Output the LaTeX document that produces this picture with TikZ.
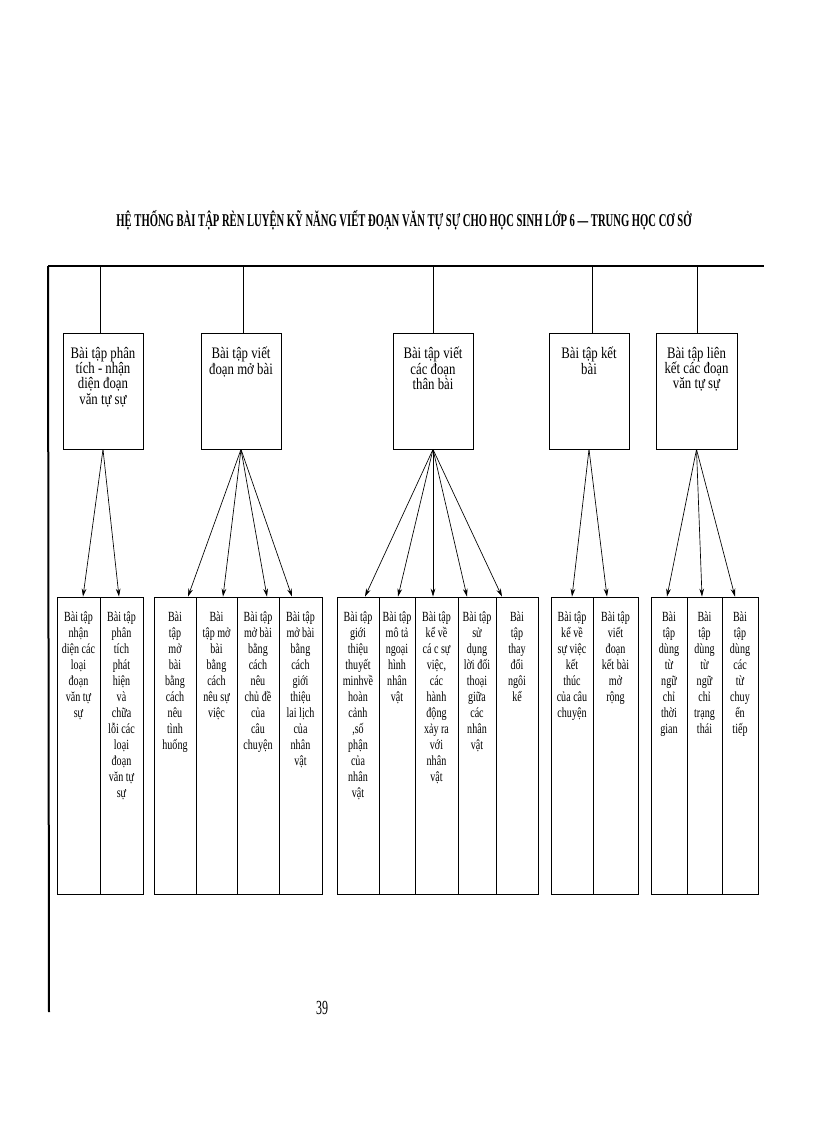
\documentclass[tikz,border=0pt]{standalone}
\usepackage{fontspec}
\setmainfont{Liberation Serif}
\newfontfamily\titlefont[FakeStretch=0.59]{Liberation Serif}
\newfontfamily\topfont[FakeStretch=0.8]{Liberation Serif}
\newfontfamily\botfont[FakeStretch=0.72]{Liberation Serif}
\newfontfamily\pagefont[FakeStretch=0.6]{Liberation Serif}
\usetikzlibrary{arrows.meta,calc}
\begin{document}
\begin{tikzpicture}[x=0.75pt,y=-0.75pt,
  tbox/.style={draw, line width=0.6pt, minimum width=60pt, minimum height=87pt, inner sep=0pt},
  bcol/.style={draw, line width=0.6pt, minimum height=222.75pt, inner sep=0pt},
  ttxt/.style={font=\topfont\fontsize{12}{11.4}\selectfont, align=center, inner sep=0pt, anchor=north},
  btxt/.style={font=\botfont\fontsize{10.5}{12}\selectfont, align=center, inner sep=0pt, anchor=north},
  arr/.style={-{Stealth[length=6pt,width=3.5pt]}, line width=0.5pt},
  link/.style={line width=0.6pt},
  bus/.style={line width=2.2pt},
  side/.style={line width=1.5pt}]
\useasboundingbox (0,0) rectangle (816,1123);

% title
\node[font=\titlefont\bfseries\fontsize{13.5}{14}\selectfont, anchor=base, inner sep=0pt] (title) at (404,227)
  {HỆ THỐNG BÀI TẬP RÈN LUYỆN KỸ NĂNG VIẾT ĐOẠN VĂN TỰ SỰ CHO HỌC SINH LỚP 6 — TRUNG HỌC CƠ SỞ};

% bus
\coordinate (busL) at (48,266);
\coordinate (busR) at (764,266);
\coordinate (sideB) at (49,1012);
\draw[bus] (busL) -- (busR);
\draw[side] (busL) -- (sideB);

% top boxes
\node[tbox] (t1) at (103,391) {};
\node[tbox] (t2) at (241,391) {};
\node[tbox] (t3) at (433,391) {};
\node[tbox] (t4) at (589,391) {};
\node[tbox, minimum width=60.75pt] (t5) at (696.5,391) {};

\node[ttxt] (t1x) at (103,347) {Bài tập phân\\tích - nhận\\diện đoạn\\văn tự sự};
\node[ttxt] (t2x) at (241,347) {Bài tập viết\\đoạn mở bài};
\node[ttxt] (t3x) at (433,347) {Bài tập viết\\các đoạn\\thân bài};
\node[ttxt] (t4x) at (589,347) {Bài tập kết\\bài};
\node[ttxt] (t5x) at (696.5,347) {Bài tập liên\\kết các đoạn\\văn tự sự};

% taps from bus
\coordinate (c1) at (100,266);
\coordinate (c2) at (243,266);
\coordinate (c3) at (433,266);
\coordinate (c4) at (592,266);
\coordinate (c5) at (697,266);
\draw[link] (c1) -- (c1 |- t1.north);
\draw[link] (c2) -- (c2 |- t2.north);
\draw[link] (c3) -- (c3 |- t3.north);
\draw[link] (c4) -- (c4 |- t4.north);
\draw[link] (c5) -- (c5 |- t5.north);

% bottom columns
\node[bcol, minimum width=32.25pt] (b1a) at (78.5,745.5) {};
\node[bcol, minimum width=32.25pt] (b1b) at (121.5,745.5) {};

\node[bcol, minimum width=31.5pt] (b2a) at (175,745.5) {};
\node[bcol, minimum width=30.75pt] (b2b) at (216.5,745.5) {};
\node[bcol, minimum width=31.5pt] (b2c) at (258,745.5) {};
\node[bcol, minimum width=32.25pt] (b2d) at (300.5,745.5) {};

\node[bcol, minimum width=31.5pt] (b3a) at (358,745.5) {};
\node[bcol, minimum width=27pt] (b3b) at (397,745.5) {};
\node[bcol, minimum width=32.25pt] (b3c) at (436.5,745.5) {};
\node[bcol, minimum width=28.5pt] (b3d) at (477,745.5) {};
\node[bcol, minimum width=31.5pt] (b3e) at (517,745.5) {};

\node[bcol, minimum width=31.5pt] (b4a) at (572,745.5) {};
\node[bcol, minimum width=33.75pt] (b4b) at (615.5,745.5) {};

\node[bcol, minimum width=27pt] (b5a) at (669,745.5) {};
\node[bcol, minimum width=26.25pt] (b5b) at (704.5,745.5) {};
\node[bcol, minimum width=27pt] (b5c) at (740,745.5) {};

% bottom texts
\node[btxt] (b1at) at (78.5,611) {Bài tập\\nhận\\diện các\\loại\\đoạn\\văn tự\\sự};
\node[btxt] (b1bt) at (121.5,611) {Bài tập\\phân\\tích\\phát\\hiện\\và\\chữa\\lỗi các\\loại\\đoạn\\văn tự\\sự};

\node[btxt] (b2at) at (175,611) {Bài\\tập\\mở\\bài\\bằng\\cách\\nêu\\tình\\huống};
\node[btxt] (b2bt) at (216.5,611) {Bài\\tập mở\\bài\\bằng\\cách\\nêu sự\\việc};
\node[btxt] (b2ct) at (258,611) {Bài tập\\mở bài\\bằng\\cách\\nêu\\chủ đề\\của\\câu\\chuyện};
\node[btxt] (b2dt) at (300.5,611) {Bài tập\\mở bài\\bằng\\cách\\giới\\thiệu\\lai lịch\\của\\nhân\\vật};

\node[btxt] (b3at) at (358,611) {Bài tập\\giới\\thiệu\\thuyết\\minhvề\\hoàn\\cảnh\\,số\\phận\\của\\nhân\\vật};
\node[btxt] (b3bt) at (397,611) {Bài tập\\mô tả\\ngoại\\hình\\nhân\\vật};
\node[btxt] (b3ct) at (436.5,611) {Bài tập\\kể về\\cá c sự\\việc,\\các\\hành\\động\\xảy ra\\với\\nhân\\vật};
\node[btxt] (b3dt) at (477,611) {Bài tập\\sử\\dụng\\lời đối\\thoại\\giữa\\các\\nhân\\vật};
\node[btxt] (b3et) at (517,611) {Bài\\tập\\thay\\đổi\\ngôi\\kể};

\node[btxt] (b4at) at (572,611) {Bài tập\\kể về\\sự việc\\kết\\thúc\\của câu\\chuyện};
\node[btxt] (b4bt) at (615.5,611) {Bài tập\\viết\\đoạn\\kết bài\\mở\\rộng};

\node[btxt] (b5at) at (669,611) {Bài\\tập\\dùng\\từ\\ngữ\\chỉ\\thời\\gian};
\node[btxt] (b5bt) at (704.5,611) {Bài\\tập\\dùng\\từ\\ngữ\\chỉ\\trạng\\thái};
\node[btxt] (b5ct) at (740,611) {Bài\\tập\\dùng\\các\\từ\\chuy\\ển\\tiếp};

% arrows
\draw[arr] (t1.south) -- ($(b1a.north)+(4.5,0)$);
\draw[arr] (t1.south) -- ($(b1b.north)+(-2.5,0)$);

\draw[arr] (t2.south) -- ($(b2a.north)+(13,0)$);
\draw[arr] (t2.south) -- ($(b2b.north)+(6.5,0)$);
\draw[arr] (t2.south) -- ($(b2c.north)+(9,0)$);
\draw[arr] (t2.south) -- ($(b2d.north)+(-8.5,0)$);

\draw[arr] (t3.south) -- ($(b3a.north)+(7,0)$);
\draw[arr] (t3.south) -- ($(b3b.north)+(1,0)$);
\draw[arr] (t3.south) -- ($(b3c.north)+(-3.5,0)$);
\draw[arr] (t3.south) -- ($(b3d.north)+(-10,0)$);
\draw[arr] (t3.south) -- ($(b3e.north)+(-15,0)$);

\draw[arr] (t4.south) -- ($(b4a.north)+(0,0)$);
\draw[arr] (t4.south) -- ($(b4b.north)+(-8.5,0)$);

\draw[arr] (t5.south) -- ($(b5a.north)+(-2,0)$);
\draw[arr] (t5.south) -- ($(b5b.north)+(-2.5,0)$);
\draw[arr] (t5.south) -- ($(b5c.north)+(-5,0)$);

% page number
\node[font=\pagefont\fontsize{15}{15}\selectfont, anchor=base, inner sep=0pt] (pg) at (322,1014) {39};
\end{tikzpicture}
\end{document}
